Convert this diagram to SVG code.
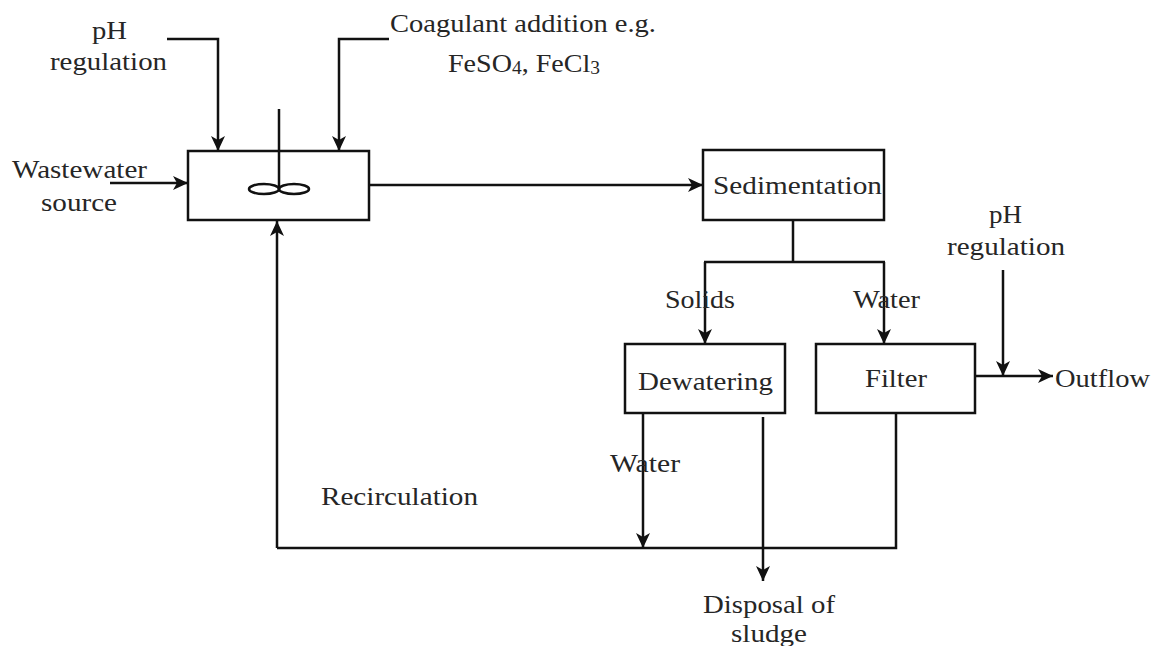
<svg xmlns="http://www.w3.org/2000/svg" width="1156" height="646" viewBox="0 0 1156 646">
<style>
.box{fill:#fff;stroke:#111;stroke-width:2.5}
.ln{fill:none;stroke:#111;stroke-width:2.5}
.arr{marker-end:url(#ah)}
text{font-family:"Liberation Serif","Times New Roman",serif;font-size:26px;fill:#262626}
</style>
<defs>
<marker id="ah" markerUnits="userSpaceOnUse" markerWidth="16" markerHeight="14" refX="15" refY="7" orient="auto">
<path d="M0,0 L15,7 L0,14 L4,7 z" fill="#111"/>
</marker>
</defs>
<rect width="1156" height="646" fill="#fff"/>
<g id="connectors">
<path class="ln arr" d="M167,39 H218 V151"/>
<path class="ln arr" d="M389,39 H339 V151"/>
<path class="ln arr" d="M110,183 H188"/>
<path class="ln arr" d="M369,185 H703"/>
<path class="ln" d="M793,220 V262 M704,262 H885"/>
<path class="ln arr" d="M705,262 V344"/>
<path class="ln arr" d="M884,262 V344"/>
<path class="ln arr" d="M975,376 H1053"/>
<path class="ln arr" d="M1003,270 V376"/>
<path class="ln" d="M896,413 V548 H277"/>
<path class="ln arr" d="M277,548 V221"/>
<path class="ln arr" d="M643,413 V548"/>
<path class="ln arr" d="M763,417 V581"/>
</g>
<g id="mixer">
<rect class="box" x="188" y="151" width="181" height="69"/>
<line class="ln" x1="279" y1="109" x2="279" y2="189"/>
<ellipse class="ln" cx="264" cy="189" rx="15" ry="5"/>
<ellipse class="ln" cx="294" cy="189" rx="15" ry="5"/>
</g>
<g id="sedimentation">
<rect class="box" x="703" y="150" width="181" height="70"/>
<text x="713" y="194" textLength="169" lengthAdjust="spacingAndGlyphs">Sedimentation</text>
</g>
<g id="dewatering">
<rect class="box" x="625" y="344" width="160" height="69"/>
<text x="638" y="390" textLength="135" lengthAdjust="spacingAndGlyphs">Dewatering</text>
</g>
<g id="filter">
<rect class="box" x="816" y="344" width="159" height="69"/>
<text x="865" y="387" textLength="62" lengthAdjust="spacingAndGlyphs">Filter</text>
</g>
<g id="labels">
<text x="92" y="39" textLength="35" lengthAdjust="spacingAndGlyphs">pH</text>
<text x="50" y="70" textLength="117" lengthAdjust="spacingAndGlyphs">regulation</text>
<text x="390" y="32" textLength="266" lengthAdjust="spacingAndGlyphs">Coagulant addition e.g.</text>
<text x="448" y="72" textLength="152" lengthAdjust="spacingAndGlyphs">FeSO<tspan font-size="18" dy="2">4</tspan><tspan dy="-2">, FeCl</tspan><tspan font-size="18" dy="2">3</tspan></text>
<text x="12" y="178" textLength="135" lengthAdjust="spacingAndGlyphs">Wastewater</text>
<text x="41" y="211" textLength="76" lengthAdjust="spacingAndGlyphs">source</text>
<text x="665" y="308" textLength="70" lengthAdjust="spacingAndGlyphs">Solids</text>
<text x="853" y="308" textLength="67" lengthAdjust="spacingAndGlyphs">Water</text>
<text x="989" y="223" textLength="33" lengthAdjust="spacingAndGlyphs">pH</text>
<text x="947" y="255" textLength="118" lengthAdjust="spacingAndGlyphs">regulation</text>
<text x="1055" y="387" textLength="95" lengthAdjust="spacingAndGlyphs">Outflow</text>
<text x="610" y="472" textLength="70" lengthAdjust="spacingAndGlyphs">Water</text>
<text x="321" y="505" textLength="157" lengthAdjust="spacingAndGlyphs">Recirculation</text>
<text x="703" y="613" textLength="132" lengthAdjust="spacingAndGlyphs">Disposal of</text>
<text x="731" y="642" textLength="76" lengthAdjust="spacingAndGlyphs">sludge</text>
</g>
</svg>
